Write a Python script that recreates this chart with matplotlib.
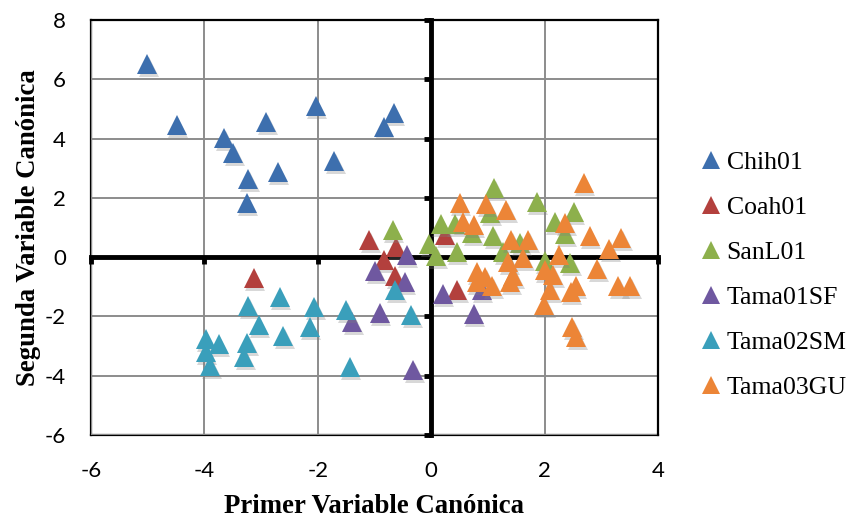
import matplotlib
matplotlib.use("Agg")
import matplotlib.pyplot as plt
from matplotlib.transforms import offset_copy

plt.rcParams['font.family'] = ['Lato', 'DejaVu Sans']
plt.rcParams['axes.unicode_minus'] = False

# ---- data ----
series_names = ["Chih01", "Coah01", "SanL01", "Tama01SF", "Tama02SM", "Tama03GU"]

chih_x = [-5.01, -4.49, -3.65, -3.49, -3.23, -3.25, -2.91, -2.71, -2.04, -1.71, -0.84, -0.66]
chih_y = [6.52, 4.47, 4.02, 3.51, 2.62, 1.81, 4.55, 2.88, 5.09, 3.23, 4.38, 4.85]

coah_x = [-1.09, -0.62, -0.84, -0.63, -3.13, 0.46, 0.25]
coah_y = [0.58, 0.35, -0.10, -0.62, -0.69, -1.12, 0.74]

sanl_x = [1.11, 1.86, 2.51, 2.18, 2.36, 0.17, 0.42, 1.04, 0.72, 1.09, -0.03, 0.09, 0.45, 1.57, 1.27, 2.00, 2.45, -0.68]
sanl_y = [2.32, 1.86, 1.51, 1.19, 0.78, 1.13, 1.11, 1.49, 0.80, 0.70, 0.46, 0.05, 0.18, 0.47, 0.17, -0.13, -0.21, 0.90]

t1_x = [-0.99, -0.43, -0.47, -0.91, -1.39, -0.32, 0.20, 0.89, 0.75]
t1_y = [-0.46, 0.08, -0.84, -1.88, -2.20, -3.80, -1.23, -1.12, -1.93]

t2_x = [-2.67, -3.23, -2.06, -1.50, -0.63, -0.35, -3.04, -2.61, -2.14, -3.98, -3.75, -3.24, -3.98, -3.30, -3.90, -1.44]
t2_y = [-1.36, -1.64, -1.68, -1.79, -1.10, -1.96, -2.29, -2.66, -2.35, -2.75, -2.94, -2.89, -3.20, -3.38, -3.68, -3.69]

t3_x = [2.69, 0.50, 0.97, 1.32, 0.56, 0.75, 2.36, 2.80, 3.35, 3.14, 1.41, 1.71, 2.25, 1.62, 1.36, 2.93,
        0.80, 0.95, 1.45, 2.00, 2.15, 0.80, 1.08, 1.39, 2.55, 3.30, 3.51, 2.10, 2.46, 1.99, 2.49, 2.56]
t3_y = [2.49, 1.84, 1.79, 1.58, 1.18, 1.10, 1.14, 0.71, 0.66, 0.29, 0.59, 0.57, 0.07, -0.04, -0.16, -0.41,
        -0.50, -0.66, -0.65, -0.44, -0.61, -0.83, -0.98, -0.83, -0.99, -0.98, -0.98, -1.11, -1.17, -1.62, -2.35, -2.69]

xs = [chih_x, coah_x, sanl_x, t1_x, t2_x, t3_x]
ys = [chih_y, coah_y, sanl_y, t1_y, t2_y, t3_y]
colors = ["#3D6FAE", "#B3403D", "#8DB04C", "#6F58A0", "#3A9FBB", "#EC8537"]

x_ticks = [-6, -4, -2, 0, 2, 4]
y_ticks = [-6, -4, -2, 0, 2, 4, 6, 8]

# ---- figure ----
W, H = 854, 523
fig = plt.figure(figsize=(W / 100, H / 100), dpi=100)
ax = fig.add_axes([91 / W, 1 - 435 / H, (658 - 91) / W, (435 - 20) / H])
ax.set_xlim(-6, 4)
ax.set_ylim(-6, 8)
ax.set_xticks(x_ticks)
ax.set_yticks(y_ticks)
ax.set_axisbelow(True)
ax.grid(True, color="#8C8C8C", linewidth=1.4)

# center axes (cross at 0)
for s in ["left", "bottom"]:
    ax.spines[s].set_position(("data", 0))
    ax.spines[s].set_linewidth(3.5)
    ax.spines[s].set_zorder(2.5)
for s in ["top", "right"]:
    ax.spines[s].set_linewidth(1.6)
ax.tick_params(axis="both", direction="out", length=5, width=3.5, color="black",
               labelbottom=False, labelleft=False)

# frame-side tick labels
secx = ax.secondary_xaxis(0.0)
secx.set_xticks(x_ticks)
secx.spines["bottom"].set_linewidth(1.6)
secx.tick_params(length=0, pad=19, labelsize=16)
secy = ax.secondary_yaxis(0.0)
secy.set_yticks(y_ticks)
secy.spines["left"].set_linewidth(1.6)
secy.tick_params(length=0, pad=18, labelsize=16)

secx.set_xlabel("Primer Variable Canónica", family="Liberation Serif", fontweight="bold",
                fontsize=19.3, labelpad=9)
secy.set_ylabel("Segunda Variable Canónica", family="Liberation Serif", fontweight="bold",
                fontsize=19.3, labelpad=3)

shadow_tr = offset_copy(ax.transData, fig=fig, x=1.5, y=-3, units="dots")
handles = []
z = 3
for name, x, y, c in zip(series_names, xs, ys, colors):
    ax.plot(x, y, linestyle="none", marker="^", markersize=15, color="#7F7F7F",
            alpha=0.30, markeredgewidth=0, transform=shadow_tr, zorder=z, clip_on=False)
    h, = ax.plot(x, y, linestyle="none", marker="^", markersize=14.6, color=c,
                 markeredgewidth=0, label=name, zorder=z + 0.5, clip_on=False)
    handles.append(h)
    z += 1

leg = ax.legend(handles=handles, loc="center left", bbox_to_anchor=(701 / W, 1 - 275 / H),
                bbox_transform=fig.transFigure, frameon=False, borderpad=0, borderaxespad=0,
                handlelength=0.8, handletextpad=0.2, labelspacing=0.85, markerscale=0.9,
                prop={"family": "Liberation Serif", "size": 18.5})

fig.savefig("out.png", dpi=100)
